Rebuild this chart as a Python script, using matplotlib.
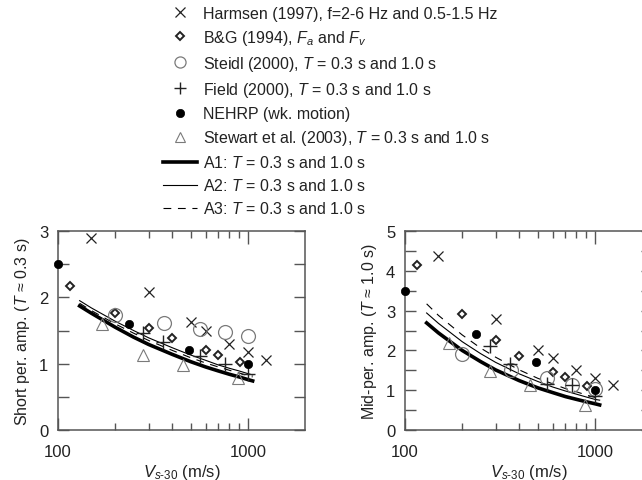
import numpy as np
import matplotlib
matplotlib.use("Agg")
import matplotlib.pyplot as plt
from matplotlib.lines import Line2D
from matplotlib.ticker import FixedLocator, NullFormatter, FixedFormatter

plt.rcParams["font.family"] = ["Liberation Sans", "DejaVu Sans"]
plt.rcParams["mathtext.fontset"] = "custom"
plt.rcParams["mathtext.rm"] = "Liberation Sans"
plt.rcParams["mathtext.it"] = "Liberation Sans:italic"

# ── Data ──────────────────────────────────────────────────────────────────
# Harmsen (1997)
harm_vs = [150, 300, 500, 600, 800, 1000, 1250]
harm_short = [2.9, 2.08, 1.63, 1.5, 1.3, 1.17, 1.06]
harm_mid = [4.36, 2.79, 2.01, 1.81, 1.51, 1.3, 1.14]
# B&G (1994)
bg_vs = [115, 200, 300, 400, 600, 700, 910]
bg_short = [2.17, 1.77, 1.54, 1.39, 1.2, 1.13, 1.03]
bg_mid = [4.15, 2.91, 2.26, 1.87, 1.45, 1.32, 1.11]
# Steidl (2000)
steidl_vs = [200, 360, 562, 760, 1000]
steidl_short = [1.73, 1.61, 1.52, 1.47, 1.42]
steidl_mid = [1.91, 1.52, 1.3, 1.13, 1.03]
# Field (2000)
field_vs = [280, 358, 558, 760, 1000]
field_short = [1.46, 1.32, 1.11, 0.99, 0.84]
field_mid = [2.12, 1.66, 1.16, 1.13, 0.85]
# NEHRP (weak motion)
nehrp_vs = [100, 237, 487, 1000]
nehrp_short = [2.5, 1.6, 1.2, 1.0]
nehrp_mid = [3.5, 2.4, 1.7, 1.0]
# Stewart et al. (2003)
stew_vs = [171, 280, 454, 890]
stew_short = [1.6, 1.13, 0.98, 0.78]
stew_mid = [2.19, 1.49, 1.14, 0.64]

# Model curves A1-A3
curve_vs = [130, 150, 200, 250, 300, 400, 500, 600, 700, 800, 900, 1000, 1060]
a1_short = [1.87, 1.76, 1.55, 1.40, 1.29, 1.14, 1.03, 0.95, 0.89, 0.84, 0.80, 0.76, 0.74]
a2_short = [1.95, 1.84, 1.64, 1.50, 1.39, 1.24, 1.13, 1.05, 0.98, 0.93, 0.89, 0.85, 0.83]
a3_short = [1.91, 1.80, 1.60, 1.46, 1.35, 1.20, 1.09, 1.01, 0.95, 0.90, 0.86, 0.82, 0.80]
a1_mid = [2.69, 2.44, 2.00, 1.72, 1.51, 1.24, 1.06, 0.94, 0.84, 0.77, 0.71, 0.66, 0.63]
a2_mid = [2.94, 2.68, 2.22, 1.92, 1.70, 1.41, 1.22, 1.08, 0.98, 0.90, 0.83, 0.77, 0.75]
a3_mid = [3.17, 2.88, 2.39, 2.06, 1.83, 1.51, 1.30, 1.16, 1.04, 0.96, 0.88, 0.82, 0.79]

legend_labels = [
    "Harmsen (1997), f=2-6 Hz and 0.5-1.5 Hz",
    "B&G (1994), $F_a$ and $F_v$",
    "Steidl (2000), $T$ = 0.3 s and 1.0 s",
    "Field (2000), $T$ = 0.3 s and 1.0 s",
    "NEHRP (wk. motion)",
    "Stewart et al. (2003), $T$ = 0.3 s and 1.0 s",
    "A1: $T$ = 0.3 s and 1.0 s",
    "A2: $T$ = 0.3 s and 1.0 s",
    "A3: $T$ = 0.3 s and 1.0 s",
]

# ── Styles ────────────────────────────────────────────────────────────────
INK = "#222222"
GREY = "#7a7a7a"
SPINE = "#555555"
styles = [
    dict(marker="x", ms=7, mew=0.9, mec=INK, ls="none"),
    dict(marker="D", ms=4, mew=1.4, mec=INK, mfc="white", ls="none"),
    dict(marker="o", ms=10, mew=0.9, mec=GREY, mfc="none", ls="none"),
    dict(marker="+", ms=10, mew=1.0, mec=INK, ls="none"),
    dict(marker="o", ms=6, mew=0.5, mec="black", mfc="black", ls="none"),
    dict(marker="^", ms=9, mew=0.8, mec=GREY, mfc="none", ls="none"),
]
line_styles = [
    dict(color="black", lw=2.6, ls="-"),
    dict(color="black", lw=0.8, ls="-"),
    dict(color="black", lw=0.8, ls=(0, (7, 6))),
]
# smaller markers for the legend keys
legend_ms = [7, 4, 8, 9, 6, 7]

fig = plt.figure(figsize=(6.42, 4.81), dpi=100)
ax_s = fig.add_axes([58 / 642, 50 / 481, 247 / 642, 199 / 481])
ax_m = fig.add_axes([405 / 642, 50 / 481, 247 / 642, 199 / 481])

panels = [
    (ax_s, [harm_short, bg_short, steidl_short, field_short, nehrp_short, stew_short],
     [a1_short, a2_short, a3_short], 3, "Short per. amp. ($T$ \u2248 0.3 s)"),
    (ax_m, [harm_mid, bg_mid, steidl_mid, field_mid, nehrp_mid, stew_mid],
     [a1_mid, a2_mid, a3_mid], 5, "Mid-per. amp. ($T$ \u2248 1.0 s)"),
]
xs_all = [harm_vs, bg_vs, steidl_vs, field_vs, nehrp_vs, stew_vs]

for ax, ys_all, curves, ymax, ylabel in panels:
    for xs, ys, st in zip(xs_all, ys_all, styles):
        ax.plot(xs, ys, clip_on=False, zorder=3, **st)
    for cy, ls in zip(curves, line_styles):
        ax.plot(curve_vs, cy, zorder=2, **ls)

    ax.set_xscale("log")
    ax.set_xlim(100, 2000)
    ax.set_ylim(0, ymax)
    ax.xaxis.set_major_locator(FixedLocator([100, 1000]))
    ax.xaxis.set_major_formatter(FixedFormatter(["100", "1000"]))
    ax.xaxis.set_minor_locator(FixedLocator([200, 300, 400, 500, 600, 700, 800, 900]))
    ax.xaxis.set_minor_formatter(NullFormatter())
    ax.yaxis.set_major_locator(FixedLocator(list(range(ymax + 1))))
    ax.yaxis.set_minor_locator(FixedLocator(list(np.arange(0.5, ymax, 1.0))))
    ax.tick_params(which="both", direction="in", top=True, right=True,
                   colors=SPINE, labelcolor=INK, labelsize=12, width=1.0)
    ax.tick_params(axis="x", which="major", length=9, pad=10)
    ax.tick_params(axis="x", which="minor", length=5)
    ax.tick_params(axis="y", which="both", length=8, pad=7)
    for sp in ax.spines.values():
        sp.set_color(SPINE)
        sp.set_linewidth(1.1)
    ax.set_xlabel("$V_{s\\text{-}30}$ (m/s)", fontsize=12, color=INK, labelpad=2)
    ax.set_ylabel(ylabel, fontsize=11.5, color=INK, labelpad=5)

handles = [Line2D([], [], **{**st, "ms": m}) for st, m in zip(styles, legend_ms)] + \
          [Line2D([], [], **ls) for ls in line_styles]
fig.legend(handles, legend_labels, loc="upper left",
           bbox_to_anchor=(163 / 642, 1 - 7 / 481), frameon=False,
           fontsize=11.5, handlelength=2.1, handletextpad=0.4,
           labelspacing=0.44, borderpad=0, borderaxespad=0, numpoints=1,
           labelcolor=INK)

fig.savefig("out.png", dpi=100)
